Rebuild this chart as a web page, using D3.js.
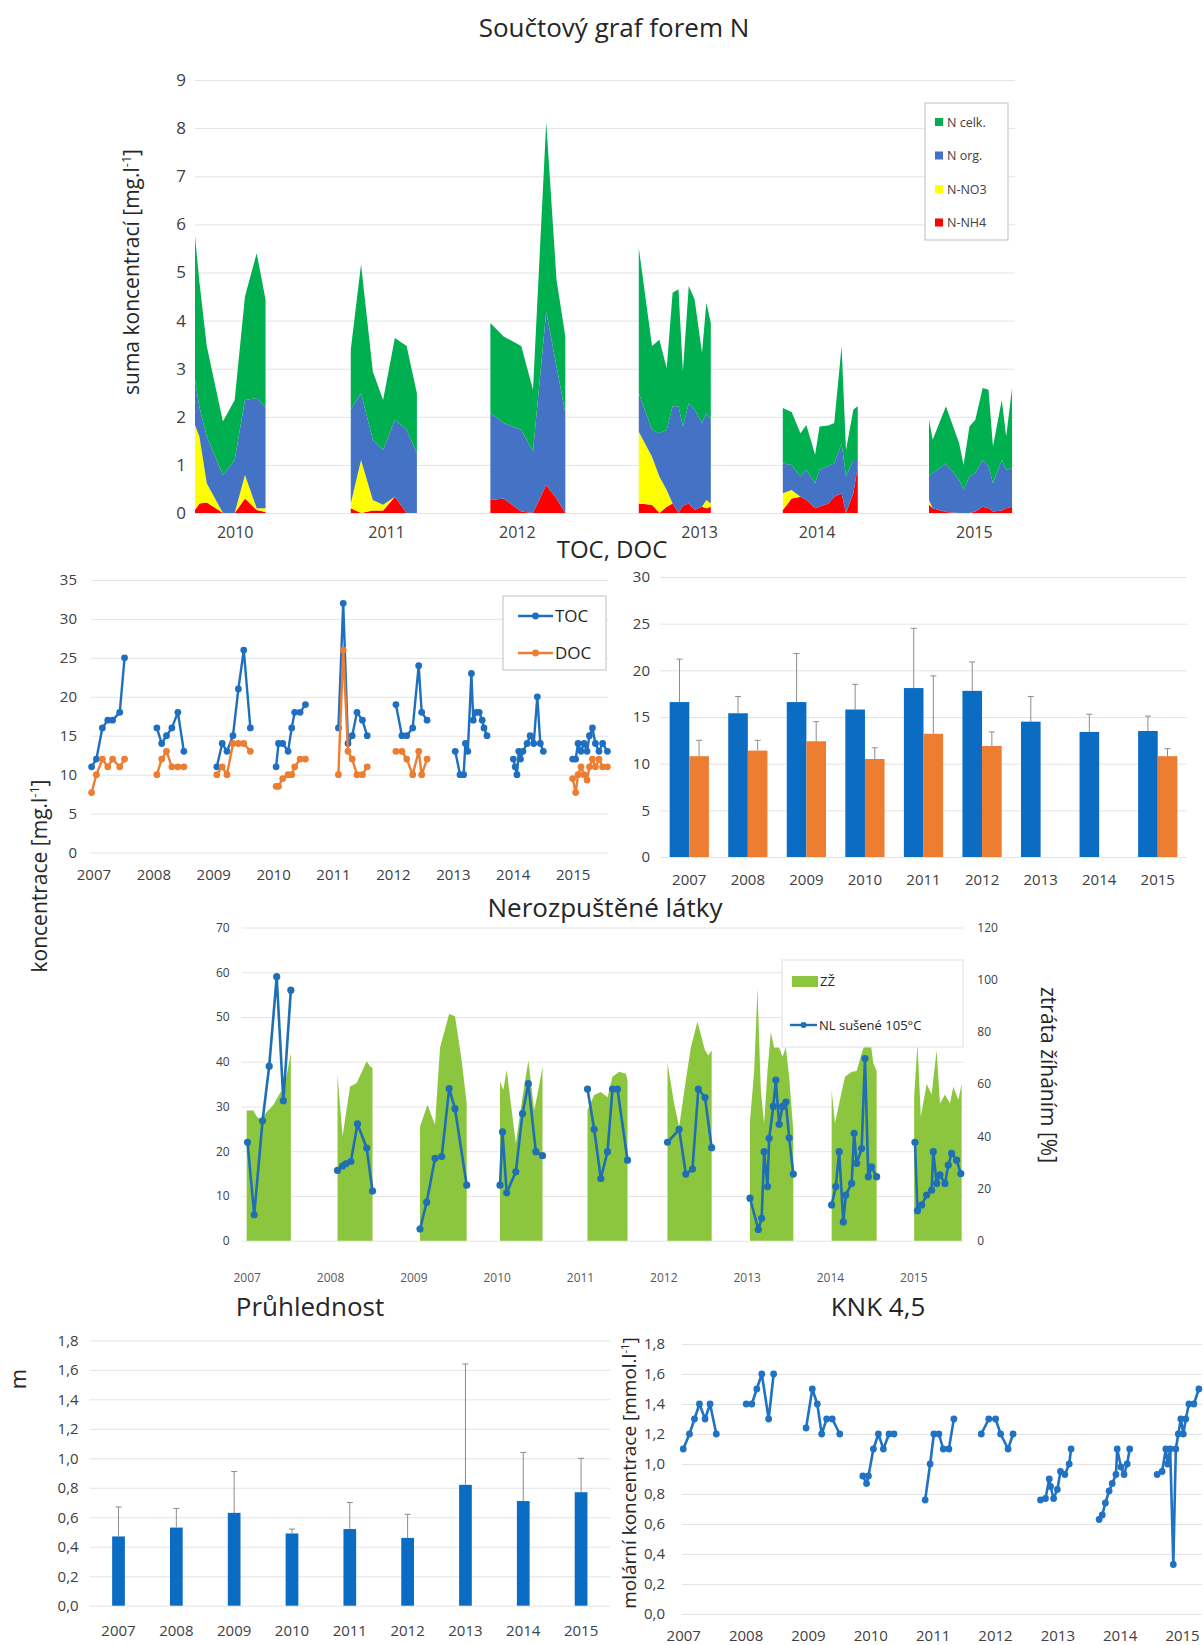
<!DOCTYPE html>
<html lang="cs">
<head>
<meta charset="UTF-8">
<title>Součtový graf forem N</title>
<script src="https://cdn.jsdelivr.net/npm/d3@7"></script>
<style>
  body { margin: 0; background: #fff; }
  text { font-family: "Open Sans", "DejaVu Sans", sans-serif; }
</style>
</head>
<body>
<svg id="chart" width="1203" height="1645"></svg>
<script>
// ---- Součtový graf forem N (stacked, mg/l) ----
const nDates = [2010.25, 2010.28, 2010.33, 2010.44, 2010.52, 2010.59, 2010.67, 2010.73,
  2011.31, 2011.38, 2011.46, 2011.53, 2011.61, 2011.69, 2011.76,
  2012.26, 2012.35, 2012.47, 2012.55, 2012.64, 2012.71, 2012.77,
  2013.27, 2013.36, 2013.41, 2013.46, 2013.50, 2013.54, 2013.57, 2013.61, 2013.65, 2013.70, 2013.73, 2013.76,
  2014.25, 2014.31, 2014.37, 2014.41, 2014.47, 2014.50, 2014.56, 2014.60, 2014.65, 2014.68, 2014.73, 2014.76,
  2015.245, 2015.27, 2015.36, 2015.45, 2015.48, 2015.52, 2015.56, 2015.61, 2015.65, 2015.68, 2015.74, 2015.77, 2015.81];
const nNH4 = [0.06, 0.2, 0.22, 0, 0, 0.3, 0.06, 0.02,
  0.1, 0, 0.05, 0.05, 0.34, 0, 0,
  0.27, 0.3, 0.03, 0, 0.58, 0.3, 0,
  0.2, 0.17, 0, 0.13, 0.2, 0, 0.15, 0.2, 0.06, 0.13, 0.1, 0.13,
  0.06, 0.3, 0.34, 0.27, 0.1, 0.13, 0.2, 0.34, 0.41, 0, 0.41, 0.97,
  0.17, 0.1, 0.02, 0, 0, 0, 0.03, 0.13, 0.1, 0.03, 0.05, 0.1, 0.13];
const nNO3 = [1.77, 1.39, 0.4, 0, 0, 0.49, 0.04, 0.08,
  0.1, 1.1, 0.22, 0.12, 0, 0, 0,
  0, 0, 0, 0, 0, 0, 0,
  1.49, 1.0, 0.76, 0.35, 0, 0, 0, 0, 0, 0, 0.17, 0.07,
  0.35, 0.18, 0, 0, 0, 0, 0, 0, 0, 0, 0, 0,
  0.1, 0, 0, 0, 0, 0, 0, 0, 0, 0, 0, 0, 0];
const nOrg = [0.94, 0.61, 0.97, 0.79, 1.1, 1.56, 2.29, 2.1,
  1.95, 1.39, 1.25, 1.14, 1.6, 1.73, 1.24,
  1.81, 1.57, 1.7, 1.28, 3.61, 2.75, 2.08,
  0.8, 0.56, 0.9, 1.25, 2.02, 2.22, 1.65, 2.08, 2.09, 1.74, 1.81, 1.74,
  0.62, 0.52, 0.42, 0.63, 0.52, 0.77, 0.78, 0.69, 1.04, 0.76, 0.69, 0.13,
  0.49, 0.73, 1.01, 0.69, 0.48, 0.76, 0.8, 0.97, 0.87, 0.59, 1.05, 0.8, 0.8];
const nCelk = [2.99, 2.6, 1.88, 1.11, 1.25, 2.15, 3.01, 2.24,
  1.25, 2.68, 1.42, 1.04, 1.7, 1.74, 1.25,
  1.87, 1.8, 1.74, 1.28, 3.93, 1.8, 1.59,
  3.02, 1.74, 1.94, 1.28, 2.36, 2.43, 1.14, 2.44, 2.29, 1.46, 2.29, 2.01,
  1.15, 1.1, 0.9, 0.93, 0.59, 0.9, 0.84, 0.84, 2.02, 0.55, 1.05, 1.12,
  1.18, 0.69, 1.19, 0.76, 0.52, 1.04, 1.11, 1.5, 1.59, 0.76, 1.25, 0.69, 1.67];
const nYearPos = [2010.52, 2011.55, 2012.44, 2013.68, 2014.48, 2015.55];
const nYearLbl = ["2010", "2011", "2012", "2013", "2014", "2015"];
const nTicks = [0, 1, 2, 3, 4, 5, 6, 7, 8, 9];

// ---- TOC, DOC time series (mg/l) ----
const tocDates = [2006.97, 2007.05, 2007.15, 2007.24, 2007.32, 2007.44, 2007.52,
  2008.06, 2008.14, 2008.22, 2008.31, 2008.41, 2008.51,
  2009.06, 2009.15, 2009.23, 2009.33, 2009.42, 2009.51, 2009.62,
  2010.05, 2010.09, 2010.16, 2010.25, 2010.31, 2010.36, 2010.45, 2010.54,
  2011.09, 2011.17, 2011.25, 2011.32, 2011.40, 2011.49, 2011.57,
  2012.05, 2012.15, 2012.23, 2012.33, 2012.43, 2012.48, 2012.57,
  2013.04, 2013.12, 2013.18, 2013.21, 2013.25, 2013.31, 2013.34, 2013.39, 2013.44, 2013.49, 2013.52, 2013.57,
  2014.01, 2014.04, 2014.07, 2014.10, 2014.13, 2014.17, 2014.24, 2014.29, 2014.35, 2014.41, 2014.46, 2014.51,
  2015.00, 2015.05, 2015.09, 2015.14, 2015.19, 2015.24, 2015.28, 2015.33, 2015.38, 2015.44, 2015.50, 2015.58];
const toc = [11, 12, 16, 17, 17, 18, 25,
  16, 14, 15, 16, 18, 13,
  11, 14, 13, 15, 21, 26, 16,
  11, 14, 14, 13, 16, 18, 18, 19,
  16, 32, 14, 15, 18, 17, 15,
  19, 15, 15, 16, 24, 18, 17,
  13, 10, 10, 14, 13, 23, 17, 18, 18, 17, 16, 15,
  12, 11, 10, 13, 12, 13, 14, 15, 14, 20, 14, 13,
  12, 12, 14, 13, 14, 13, 15, 16, 14, 13, 14, 13];
const doc = [7.7, 10, 12, 11, 12, 11, 12,
  10, 12, 13, 11, 11, 11,
  10, 11, 10, 14, 14, 14, 13,
  8.5, 8.5, 9.5, 10, 10, 11, 12, 12,
  10, 26, 13, 12, 10, 10, 11,
  13, 13, 12, 10, 13, 10, 12,
  null, null, null, null, null, null, null, null, null, null, null, null,
  null, null, null, null, null, null, null, null, null, null, null, null,
  9.5, 7.7, 10, 11, 10, 9.3, 11, 12, 11, 12, 11, 11];
const years = [2007, 2008, 2009, 2010, 2011, 2012, 2013, 2014, 2015];
const tocTicks = [0, 5, 10, 15, 20, 25, 30, 35];

// ---- TOC, DOC yearly means with SD ----
const tocMean = [16.6, 15.4, 16.6, 15.8, 18.1, 17.8, 14.5, 13.4, 13.5];
const tocSd = [4.6, 1.8, 5.2, 2.7, 6.4, 3.1, 2.7, 1.9, 1.6];
const docMean = [10.8, 11.4, 12.4, 10.5, 13.2, 11.9, null, null, 10.8];
const docSd = [1.7, 1.1, 2.1, 1.2, 6.2, 1.5, null, null, 0.8];
const meanTicks = [0, 5, 10, 15, 20, 25, 30];

// ---- Nerozpuštěné látky ----
const nlDates = [2007.01, 2007.09, 2007.19, 2007.27, 2007.36, 2007.44, 2007.53,
  2008.09, 2008.15, 2008.19, 2008.25, 2008.33, 2008.44, 2008.51,
  2009.08, 2009.16, 2009.26, 2009.34, 2009.43, 2009.50, 2009.64,
  2010.04, 2010.07, 2010.12, 2010.23, 2010.31, 2010.38, 2010.47, 2010.55,
  2011.09, 2011.17, 2011.25, 2011.33, 2011.39, 2011.45, 2011.57,
  2012.05, 2012.19, 2012.27, 2012.35, 2012.42, 2012.50, 2012.58,
  2013.04, 2013.14, 2013.18, 2013.21, 2013.25, 2013.27, 2013.32, 2013.35, 2013.39, 2013.43, 2013.47, 2013.51, 2013.56,
  2014.02, 2014.07, 2014.11, 2014.16, 2014.19, 2014.26, 2014.29, 2014.32, 2014.38, 2014.42, 2014.46, 2014.50, 2014.56,
  2015.02, 2015.05, 2015.10, 2015.16, 2015.22, 2015.24, 2015.28, 2015.32, 2015.38, 2015.42, 2015.46, 2015.52, 2015.57];
const nl = [22, 5.8, 26.8, 39, 59, 31.3, 56,
  15.7, 16.7, 17.2, 17.7, 26.1, 20.7, 11.1,
  2.6, 8.6, 18.4, 18.8, 34, 29.5, 12.4,
  12.4, 24.3, 10.7, 15.4, 28.4, 35.1, 19.9, 19,
  33.9, 24.9, 13.9, 19.9, 33.9, 33.9, 18,
  22, 24.9, 14.9, 16, 33.9, 32, 20.8,
  9.5, 2.5, 5, 19.9, 12.1, 22.9, 30, 35.9, 26, 30, 31, 23, 14.9,
  8, 12.1, 19.9, 4.2, 10.2, 12.8, 24, 17.3, 20.6, 40.7, 14.3, 16.5, 14.3,
  22, 6.7, 8, 10.2, 11.3, 19.9, 12.8, 14.7, 12.8, 16.9, 19.5, 18, 15];
const zzDates = [2007.00, 2007.08, 2007.12, 2007.17, 2007.24, 2007.32, 2007.40, 2007.44, 2007.49, 2007.53,
  2008.09, 2008.15, 2008.24, 2008.32, 2008.44, 2008.48, 2008.51,
  2009.08, 2009.17, 2009.26, 2009.32, 2009.43, 2009.50, 2009.58, 2009.64,
  2010.04, 2010.08, 2010.12, 2010.17, 2010.23, 2010.31, 2010.38, 2010.45, 2010.49, 2010.55,
  2011.09, 2011.17, 2011.25, 2011.33, 2011.39, 2011.47, 2011.55, 2011.57,
  2012.05, 2012.13, 2012.19, 2012.27, 2012.33, 2012.41, 2012.45, 2012.50, 2012.54, 2012.58,
  2013.04, 2013.09, 2013.13, 2013.17, 2013.21, 2013.25, 2013.29, 2013.33, 2013.39, 2013.43, 2013.47, 2013.51, 2013.56,
  2014.02, 2014.06, 2014.11, 2014.18, 2014.26, 2014.32, 2014.38, 2014.42, 2014.48, 2014.52, 2014.56,
  2015.01, 2015.05, 2015.09, 2015.16, 2015.22, 2015.28, 2015.32, 2015.38, 2015.44, 2015.48, 2015.54, 2015.58];
const zz = [49.9, 49.9, 47.6, 46.3, 49.3, 52, 56.6, 58, 65, 72,
  63.6, 40, 59, 60.4, 68.8, 66.8, 66.2,
  43.8, 52.1, 44.4, 73.9, 86.9, 86, 69, 52.6,
  61, 57.7, 65.4, 52.6, 37.3, 55, 69, 50, 56, 66.6,
  50, 55.8, 57, 55, 62.8, 64.7, 64, 61.5,
  68, 52.6, 43.7, 61.5, 74, 84, 79, 73, 71, 73,
  46, 65, 96.6, 57.7, 45, 65, 80, 74, 74, 70.5, 74, 62.8, 42,
  57.7, 45, 52.6, 62.8, 64.7, 65, 71.7, 75.6, 78, 68, 65,
  55, 75.6, 47.5, 60, 56, 73, 52.6, 56, 52.6, 59, 54, 60];
const nlTicks = [0, 10, 20, 30, 40, 50, 60, 70];
const zzTicks = [0, 20, 40, 60, 80, 100, 120];

// ---- Průhlednost (m) ----
const pruhMean = [0.47, 0.53, 0.63, 0.49, 0.52, 0.46, 0.82, 0.71, 0.77];
const pruhSd = [0.20, 0.13, 0.28, 0.03, 0.18, 0.16, 0.82, 0.33, 0.23];
const mTicks = [0, 0.2, 0.4, 0.6, 0.8, 1.0, 1.2, 1.4, 1.6, 1.8];

// ---- KNK 4,5 (mmol/l) ----
const knkDates = [2007.00, 2007.10, 2007.18, 2007.26, 2007.35, 2007.43, 2007.53,
  2008.01, 2008.10, 2008.18, 2008.26, 2008.37, 2008.45,
  2008.97, 2009.07, 2009.15, 2009.22, 2009.30, 2009.39, 2009.51,
  2009.88, 2009.94, 2009.97, 2010.05, 2010.13, 2010.21, 2010.30, 2010.38,
  2010.88, 2010.96, 2011.02, 2011.10, 2011.17, 2011.26, 2011.34,
  2011.78, 2011.90, 2012.01, 2012.09, 2012.21, 2012.29,
  2012.73, 2012.81, 2012.87, 2012.89, 2012.94, 2013.00, 2013.05, 2013.12, 2013.19, 2013.22,
  2013.67, 2013.72, 2013.77, 2013.83, 2013.88, 2013.94, 2013.96, 2014.02, 2014.07, 2014.12, 2014.16,
  2014.60, 2014.68, 2014.74, 2014.77, 2014.81, 2014.86, 2014.90, 2014.94, 2014.98, 2015.02, 2015.06, 2015.11, 2015.19, 2015.27];
const knk = [1.1, 1.2, 1.3, 1.4, 1.3, 1.4, 1.2,
  1.4, 1.4, 1.5, 1.6, 1.3, 1.6,
  1.24, 1.5, 1.4, 1.2, 1.3, 1.3, 1.2,
  0.92, 0.87, 0.92, 1.1, 1.2, 1.1, 1.2, 1.2,
  0.76, 1.0, 1.2, 1.2, 1.1, 1.1, 1.3,
  1.2, 1.3, 1.3, 1.2, 1.1, 1.2,
  0.76, 0.77, 0.9, 0.85, 0.77, 0.83, 0.95, 0.93, 1.0, 1.1,
  0.63, 0.66, 0.74, 0.82, 0.87, 0.93, 1.1, 0.98, 0.93, 1.0, 1.1,
  0.93, 0.95, 1.1, 1.0, 1.1, 0.33, 1.1, 1.2, 1.3, 1.2, 1.3, 1.4, 1.4, 1.5];

const svg = d3.select("#chart");
const gridCol = "#e4e4e4", ink = "#404040";
const blue = "#1f6fc1", orange = "#ed7d31";
const comma = d => d.toFixed(1).replace(".", ",");

// split indices of a date array into seasons (gap longer than a few months)
function seasons(dates) {
  const out = [];
  let cur = [];
  dates.forEach((t, i) => {
    if (cur.length && t - dates[i - 1] > 0.3) { out.push(cur); cur = []; }
    cur.push(i);
  });
  out.push(cur);
  return out;
}

function leftAxis(y, x0, x1, ticks, fmt, pad, size) {
  const g = svg.append("g").attr("transform", `translate(${x0},0)`)
    .call(d3.axisLeft(y).tickValues(ticks).tickFormat(fmt).tickSize(-(x1 - x0)).tickPadding(pad));
  g.select(".domain").remove();
  g.selectAll(".tick line").attr("stroke", gridCol);
  g.selectAll(".tick text").attr("fill", ink).style("font-size", size + "px");
}

function bottomAxis(x, yPos, ticks, fmt, pad, size, col) {
  const g = svg.append("g").attr("transform", `translate(0,${yPos})`)
    .call(d3.axisBottom(x).tickValues(ticks).tickFormat(fmt).tickSize(0).tickPadding(pad));
  g.select(".domain").remove();
  g.selectAll(".tick text").attr("fill", col || ink).style("font-size", size + "px");
}

function label(parts, x, y, size, rot) {
  const t = svg.append("text")
    .attr("transform", `translate(${x},${y}) rotate(${rot || 0})`)
    .attr("text-anchor", "middle").attr("fill", "#262626").style("font-size", size + "px");
  parts.forEach(p => {
    if (p.sup) t.append("tspan").attr("baseline-shift", "super").style("font-size", (size * 0.6) + "px").text(p.sup);
    else t.append("tspan").text(p.t);
  });
}

function seriesLine(x, y, dates, vals, col, r, w) {
  const line = d3.line().defined(i => vals[i] != null).x(i => x(dates[i])).y(i => y(vals[i]));
  seasons(dates).forEach(idx => {
    svg.append("path").attr("d", line(idx)).attr("fill", "none")
      .attr("stroke", col).attr("stroke-width", w).attr("stroke-linejoin", "round");
  });
  svg.append("g").selectAll("circle")
    .data(dates.map((t, i) => i).filter(i => vals[i] != null))
    .join("circle").attr("cx", i => x(dates[i])).attr("cy", i => y(vals[i]))
    .attr("r", r).attr("fill", col);
}

// ================= Součtový graf forem N =================
const nX = d3.scaleLinear().domain([2010.25, 2015.83]).range([195, 1015]);
const nY = d3.scaleLinear().domain([0, 9]).range([513, 80]);
leftAxis(nY, 195, 1015, nTicks, d3.format("d"), 9, 17);
bottomAxis(nX, 513, nYearPos, (d, i) => nYearLbl[i], 14, 16);

const nKeys = ["nh4", "no3", "norg", "ncelk"];
const nCol = { nh4: "#ff0000", no3: "#ffff00", norg: "#4472c4", ncelk: "#00b050" };
const nRows = nDates.map((t, i) => ({ t, nh4: nNH4[i], no3: nNO3[i], norg: nOrg[i], ncelk: nCelk[i] }));
const nStack = d3.stack().keys(nKeys)(nRows);
const nArea = d3.area().x(d => nX(d.data.t)).y0(d => nY(d[0])).y1(d => nY(d[1]));
seasons(nDates).forEach(idx => {
  nStack.forEach(layer => {
    svg.append("path").datum(idx.map(i => layer[i])).attr("d", nArea).attr("fill", nCol[layer.key]);
  });
});

label([{ t: "Součtový graf forem N" }], 614, 37, 26);
label([{ t: "suma koncentrací [mg.l" }, { sup: "-1" }, { t: "]" }], 139, 272, 21, -90);

const nLeg = svg.append("g").attr("transform", "translate(925,103)");
nLeg.append("rect").attr("width", 83).attr("height", 137).attr("fill", "#fff").attr("stroke", "#bfbfbf");
[["N celk.", "ncelk"], ["N org.", "norg"], ["N-NO3", "no3"], ["N-NH4", "nh4"]].forEach(([name, k], i) => {
  const row = nLeg.append("g").attr("transform", `translate(10,${19 + i * 33.5})`);
  row.append("rect").attr("y", -4).attr("width", 8).attr("height", 8).attr("fill", nCol[k]);
  row.append("text").attr("x", 12).attr("y", 4.5).attr("fill", ink).style("font-size", "12.5px").text(name);
});

// ================= TOC, DOC line chart =================
const tX = d3.scaleLinear().domain([2006.96, 2015.59]).range([91, 608]);
const tY = d3.scaleLinear().domain([0, 35]).range([852.5, 580]);
leftAxis(tY, 91, 608, tocTicks, d3.format("d"), 14, 15);
bottomAxis(tX, 852.5, years, d3.format("d"), 17, 15);
seriesLine(tX, tY, tocDates, toc, blue, 3.4, 2.4);
seriesLine(tX, tY, tocDates, doc, orange, 3.4, 2.4);

const tLeg = svg.append("g").attr("transform", "translate(503,596)");
tLeg.append("rect").attr("width", 103).attr("height", 74).attr("fill", "#fff").attr("stroke", "#bfbfbf");
[["TOC", blue], ["DOC", orange]].forEach(([name, c], i) => {
  const row = tLeg.append("g").attr("transform", `translate(0,${20 + i * 37})`);
  row.append("line").attr("x1", 15).attr("x2", 50).attr("stroke", c).attr("stroke-width", 2.4);
  row.append("circle").attr("cx", 32.5).attr("r", 3.4).attr("fill", c);
  row.append("text").attr("x", 52).attr("y", 6).attr("fill", "#262626").style("font-size", "17px").text(name);
});

// ================= TOC, DOC yearly bars =================
const bX = d3.scaleBand().domain(years).range([660, 1187]).paddingInner(0.33).paddingOuter(0.165);
const bSub = d3.scaleBand().domain(["TOC", "DOC"]).range([0, bX.bandwidth()]);
const bY = d3.scaleLinear().domain([0, 30]).range([857, 577]);
leftAxis(bY, 660, 1187, meanTicks, d3.format("d"), 10, 15);
bottomAxis(bX, 857, years, d3.format("d"), 17, 15);

function errBars(x, sub, key, y, means, sds, col, barW) {
  years.forEach((yr, i) => {
    if (means[i] == null) return;
    const x0 = x(yr) + (sub ? sub(key) : 0);
    svg.append("rect").attr("x", x0).attr("y", y(means[i]))
      .attr("width", barW).attr("height", y(0) - y(means[i])).attr("fill", col);
    const cx = x0 + barW / 2;
    svg.append("line").attr("x1", cx).attr("x2", cx).attr("y1", y(means[i])).attr("y2", y(means[i] + sds[i]))
      .attr("stroke", "#8c8c8c").attr("stroke-width", 1);
    svg.append("line").attr("x1", cx - 3).attr("x2", cx + 3).attr("y1", y(means[i] + sds[i])).attr("y2", y(means[i] + sds[i]))
      .attr("stroke", "#8c8c8c").attr("stroke-width", 1);
  });
}
errBars(bX, bSub, "TOC", bY, tocMean, tocSd, "#0b6cc4", bSub.bandwidth());
errBars(bX, bSub, "DOC", bY, docMean, docSd, orange, bSub.bandwidth());

label([{ t: "TOC, DOC" }], 612, 558, 24);
label([{ t: "koncentrace [mg.l" }, { sup: "-1" }, { t: "]" }], 47, 876, 21, -90);

// ================= Nerozpuštěné látky =================
const lX = d3.scaleLinear().domain([2006.94, 2015.6]).range([241.7, 963.3]);
const lY = d3.scaleLinear().domain([0, 70]).range([1240.7, 927.5]);
const rY = d3.scaleLinear().domain([0, 120]).range([1240.7, 927.5]);
leftAxis(lY, 241.7, 963.3, nlTicks, d3.format("d"), 12, 12);
const rAx = svg.append("g").attr("transform", "translate(963.3,0)")
  .call(d3.axisRight(rY).tickValues(zzTicks).tickSize(0).tickPadding(14));
rAx.select(".domain").remove();
rAx.selectAll(".tick text").attr("fill", ink).style("font-size", "12px");
bottomAxis(lX, 1240.7, years, d3.format("d"), 33, 12, "#595959");

const zzArea = d3.area().x(i => lX(zzDates[i])).y0(rY(0)).y1(i => rY(zz[i]));
seasons(zzDates).forEach(idx => {
  svg.append("path").attr("d", zzArea(idx)).attr("fill", "#8cc63f");
});
seriesLine(lX, lY, nlDates, nl, "#1f6fb5", 3.6, 2.6);

const lLeg = svg.append("g").attr("transform", "translate(782,960)");
lLeg.append("rect").attr("width", 181).attr("height", 87).attr("fill", "#fff").attr("stroke", "#e0e0e0");
lLeg.append("rect").attr("x", 10).attr("y", 16).attr("width", 26).attr("height", 11).attr("fill", "#8cc63f");
lLeg.append("text").attr("x", 38).attr("y", 26).attr("fill", "#262626").style("font-size", "13px").text("ZŽ");
lLeg.append("line").attr("x1", 8).attr("x2", 35).attr("y1", 65).attr("y2", 65).attr("stroke", "#1f6fb5").attr("stroke-width", 2.4);
lLeg.append("circle").attr("cx", 21.5).attr("cy", 65).attr("r", 3).attr("fill", "#1f6fb5");
lLeg.append("text").attr("x", 37).attr("y", 70).attr("fill", "#262626").style("font-size", "13px").text("NL sušené 105°C");

label([{ t: "Nerozpuštěné  látky" }], 605, 917, 26);
label([{ t: "ztráta žíháním [%]" }], 1041, 1075, 21, 90);

// ================= Průhlednost =================
const pX = d3.scaleBand().domain(years).range([89.6, 610]).paddingInner(0.78).paddingOuter(0.39);
const pY = d3.scaleLinear().domain([0, 1.8]).range([1605.7, 1340.4]);
leftAxis(pY, 89.6, 610, mTicks, comma, 11, 15);
bottomAxis(pX, 1605.7, years, d3.format("d"), 20, 15);
errBars(pX, null, null, pY, pruhMean, pruhSd, "#0b6cc4", pX.bandwidth());
label([{ t: "Průhlednost" }], 310, 1316, 26);
label([{ t: "m" }], 26, 1379, 22, -90);

// ================= KNK 4,5 =================
const kX = d3.scaleLinear().domain([2006.98, 2015.32]).range([682, 1202]);
const kY = d3.scaleLinear().domain([0, 1.8]).range([1614, 1344]);
leftAxis(kY, 682, 1202, mTicks, comma, 17, 15);
bottomAxis(kX, 1614, years, d3.format("d"), 16, 15);
seriesLine(kX, kY, knkDates, knk, "#1f72c4", 3.4, 2.6);
label([{ t: "KNK 4,5" }], 878, 1316, 26);
label([{ t: "molární koncentrace [mmol.l" }, { sup: "-1" }, { t: "]" }], 636, 1473, 19, -90);
</script>
</body>
</html>
